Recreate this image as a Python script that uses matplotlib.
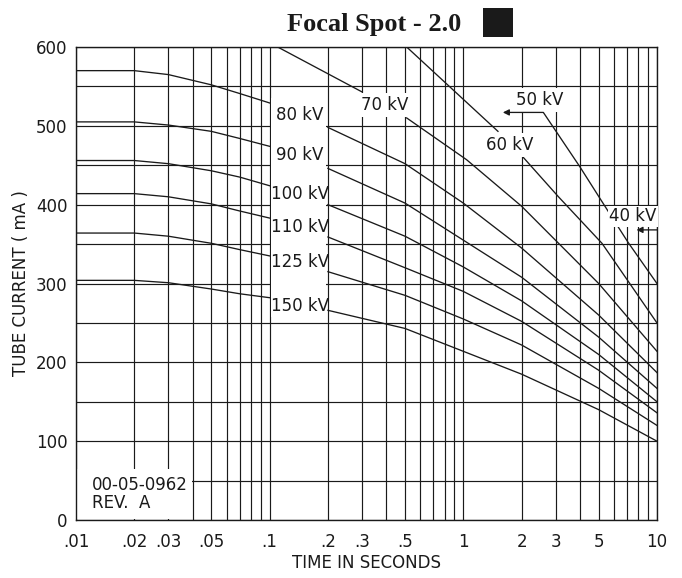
import matplotlib
matplotlib.use('Agg')
import matplotlib.pyplot as plt
from matplotlib.patches import Rectangle
from matplotlib.ticker import LogLocator, MultipleLocator, FixedLocator, NullFormatter

plt.rcParams['font.family'] = ['Liberation Sans Narrow', 'DejaVu Sans']

# rating curves, low-time part (flat top) and high-time part (after label column)
t_left = [0.01, 0.02, 0.03, 0.05, 0.07, 0.1]
t_right = [0.2, 0.5, 1, 2, 5, 10]

left_ma = {
    '80 kV':  [570, 570, 565, 552, 541, 529],
    '90 kV':  [505, 505, 501, 493, 484, 474],
    '100 kV': [456, 456, 452, 443, 435, 424],
    '110 kV': [414, 414, 410, 401, 392, 383],
    '125 kV': [364, 364, 360, 351, 343, 335],
    '150 kV': [304, 304, 301, 293, 287, 282],
}
right_ma = {
    '80 kV':  [498, 452, 402, 345, 260, 187],
    '90 kV':  [446, 402, 355, 308, 232, 167],
    '100 kV': [400, 360, 321, 278, 210, 150],
    '110 kV': [359, 320, 290, 252, 190, 136],
    '125 kV': [315, 285, 255, 222, 167, 120],
    '150 kV': [266, 243, 214, 185, 140, 100],
}
label_ma = {'80 kV': 514, '90 kV': 463, '100 kV': 413,
            '110 kV': 372, '125 kV': 327, '150 kV': 271}

# low kV curves, split around their labels
t70_a, ma70_a = [0.11, 0.30], [600, 543]
t70_b, ma70_b = [0.51, 1.04, 2, 5, 10], [510, 457, 398, 300, 214]
t60_a, ma60_a = [0.51, 1.51], [600, 493]
t60_b, ma60_b = [2.04, 3.1, 5.2, 10], [460, 410, 351, 250]
t50, ma50 = [2.59, 4.0, 5.26, 7.1, 10], [517, 448, 402, 352, 300]

x_ticks = [0.01, 0.02, 0.03, 0.05, 0.1, 0.2, 0.3, 0.5, 1, 2, 3, 5, 10]
x_tick_labels = ['.01', '.02', '.03', '.05', '.1', '.2', '.3', '.5', '1', '2', '3', '5', '10']

fig = plt.figure(figsize=(6.82, 5.78), dpi=100)
ax = fig.add_axes([0.1114, 0.1003, 0.8519, 0.8184])

ax.set_xscale('log')
ax.set_xlim(0.01, 10)
ax.set_ylim(0, 600)

ax.xaxis.set_major_locator(FixedLocator(x_ticks))
ax.set_xticklabels(x_tick_labels)
ax.xaxis.set_minor_locator(LogLocator(base=10, subs=range(1, 10)))
ax.xaxis.set_minor_formatter(NullFormatter())
ax.yaxis.set_major_locator(MultipleLocator(100))
ax.yaxis.set_minor_locator(MultipleLocator(50))
ax.tick_params(which='both', length=0, labelsize=12, colors='#1a1a1a')
ax.tick_params(axis='x', pad=9)
ax.tick_params(axis='y', pad=6)
ax.grid(which='both', color='#1a1a1a', lw=0.85)
for s in ax.spines.values():
    s.set_linewidth(1.0)
    s.set_color('#1a1a1a')

lc = '#1a1a1a'
lw = 0.95
for name in left_ma:
    ax.plot(t_left, left_ma[name], color=lc, lw=lw, zorder=3)
    ax.plot(t_right, right_ma[name], color=lc, lw=lw, zorder=3)
    ax.text(0.143, label_ma[name], name, ha='center', va='center', fontsize=12,
            color=lc, zorder=4)

ax.plot(t70_a, ma70_a, color=lc, lw=lw, zorder=3)
ax.plot(t70_b, ma70_b, color=lc, lw=lw, zorder=3)
ax.plot(t60_a, ma60_a, color=lc, lw=lw, zorder=3)
ax.plot(t60_b, ma60_b, color=lc, lw=lw, zorder=3)
ax.plot(t50, ma50, color=lc, lw=lw, zorder=3)

box = dict(facecolor='white', edgecolor='none', pad=2)
ax.text(0.394, 526, '70 kV', ha='center', va='center', fontsize=12, color=lc,
        bbox=box, zorder=4)
ax.text(1.74, 476, '60 kV', ha='center', va='center', fontsize=12, color=lc,
        bbox=box, zorder=4)
ax.text(2.49, 533, '50 kV', ha='center', va='center', fontsize=12, color=lc,
        bbox=box, zorder=4)
ax.text(9.95, 385, '40 kV', ha='right', va='center', fontsize=12, color=lc,
        bbox=dict(facecolor='white', edgecolor='none', pad=1), zorder=4)

arrow = dict(arrowstyle='-|>', color=lc, lw=lw, mutation_scale=9,
             shrinkA=0, shrinkB=0)
ax.annotate('', xy=(1.6, 517), xytext=(t50[0], 517), arrowprops=arrow, zorder=4)
ax.annotate('', xy=(7.84, 368), xytext=(10, 368), arrowprops=arrow, zorder=4)

# blank areas: label column and drawing number block
ax.add_patch(Rectangle((0.102, 258), 0.196 - 0.102, 535 - 258,
                       facecolor='white', edgecolor='none', zorder=1.6))
ax.add_patch(Rectangle((0.0101, 1), 0.0395 - 0.0101, 64,
                       facecolor='white', edgecolor='none', zorder=1.6))
ax.text(0.0121, 44, '00-05-0962', ha='left', va='center', fontsize=12, color=lc, zorder=4)
ax.text(0.0121, 21.5, 'REV.  A', ha='left', va='center', fontsize=12, color=lc, zorder=4)

fig.text(0.537, 0.026, 'TIME IN SECONDS', ha='center', va='center', fontsize=12, color=lc)
fig.text(0.031, 0.51, 'TUBE CURRENT ( mA )', ha='center', va='center', rotation=90,
         fontsize=12, color=lc)

fig.text(0.549, 0.957, 'Focal Spot - 2.0', ha='center', va='center', fontsize=19,
         fontweight='bold', family='Liberation Serif', color='#1a1a1a')
fig.add_artist(Rectangle((0.708, 0.936), 0.044, 0.050, transform=fig.transFigure,
                         facecolor='#1a1a1a', edgecolor='none'))

fig.savefig('out.png', dpi=100)
